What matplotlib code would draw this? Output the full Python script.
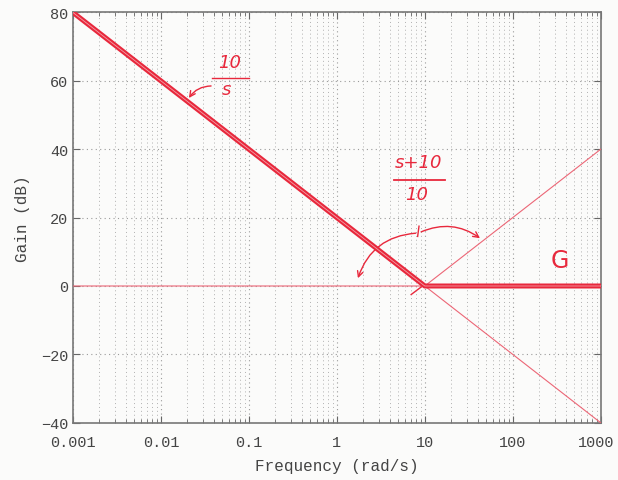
import numpy as np
import matplotlib.pyplot as plt
import matplotlib.transforms as mtransforms
from matplotlib.ticker import LogLocator, FixedLocator, NullFormatter

# asymptotic Bode gains
freq = [0.001, 10, 1000]
gain_int = [80, 0, -40]      # 10/s
gain_lead = [0, 0, 40]       # (s+10)/10
gain_G = [80, 0, 0]          # G = product

xticks = [0.001, 0.01, 0.1, 1, 10, 100, 1000]
xlabels = ['0.001', '0.01', '0.1', '1', '10', '100', '1000']
yticks = [-40, -20, 0, 20, 40, 60, 80]

mono = 'Liberation Mono'
red = '#e8283c'
thin = '#ec6676'

fig = plt.figure(figsize=(6.18, 4.81), dpi=100, facecolor='#fbfbfa')
ax = fig.add_axes([0.118, 0.119, 0.854, 0.853])
ax.set_facecolor('#fbfbfa')

ax.set_xscale('log')
ax.set_xlim(0.001, 1000)
ax.set_ylim(-40, 80)

# printed asymptotes (thin)
ax.plot(freq, gain_int, color=thin, lw=0.8, zorder=3)
ax.plot(freq, gain_lead, color=thin, lw=0.8, zorder=3)

# hand-drawn G (thick, double stroke)
ax.plot(freq, gain_G, color=red, lw=3.6, solid_capstyle='round', zorder=4)
ax.plot(freq, gain_G, color='#f4a0a8', lw=0.6, zorder=5)

ax.xaxis.set_major_locator(FixedLocator(xticks))
ax.set_xticklabels(xlabels)
ax.xaxis.set_minor_locator(LogLocator(base=10, subs=np.arange(2, 10)))
ax.xaxis.set_minor_formatter(NullFormatter())
ax.set_yticks(yticks)

ax.grid(True, which='major', color='#9a9a9a', ls=(0, (1, 3)), lw=0.8)
ax.grid(True, which='minor', axis='x', color='#b0b0b0', ls=(0, (1, 3)), lw=0.7)

ax.tick_params(which='both', direction='in', top=True, right=True,
               colors='#666666', labelcolor='#444444', labelsize=11)
ax.tick_params(which='major', length=5)
ax.tick_params(which='minor', length=3)
ax.tick_params(axis='x', which='major', pad=9)
for lab in ax.get_xticklabels() + ax.get_yticklabels():
    lab.set_fontfamily(mono)
# last x label sits flush against the right edge
last = ax.get_xticklabels()[-1]
last.set_transform(last.get_transform() + mtransforms.ScaledTranslation(-5 / 100, 0, fig.dpi_scale_trans))
for sp in ax.spines.values():
    sp.set_color('#777777')
    sp.set_linewidth(1.2)

ax.set_xlabel('Frequency (rad/s)', fontfamily=mono, fontsize=11.5, color='#444444', labelpad=6)
ax.set_ylabel('Gain (dB)', fontfamily=mono, fontsize=11.5, color='#444444', labelpad=8)

# handwritten notes
hand = dict(color=red, fontsize=13, fontfamily='DejaVu Sans', fontstyle='italic', ha='center', va='center')
ax.text(0.06, 65.5, '10', **hand)
ax.plot([0.038, 0.1], [60.8, 60.8], color=red, lw=1.0)
ax.text(0.055, 57.5, 's', **hand)
ax.annotate('', xy=(0.02, 54.3), xytext=(0.04, 58.5),
            arrowprops=dict(arrowstyle='->', color=red, lw=1.0, connectionstyle='arc3,rad=0.3'))

ax.text(8.5, 36.3, 's+10', **hand)
ax.plot([4.5, 17], [31.0, 31.0], color=red, lw=1.3)
ax.text(8.0, 27.0, '10', **hand)
ax.plot([8.6, 8.3], [17.5, 14.5], color=red, lw=1.0)
ax.annotate('', xy=(1.7, 1.5), xytext=(8.5, 15.5),
            arrowprops=dict(arrowstyle='->', color=red, lw=1.0, connectionstyle='arc3,rad=0.35'))
ax.annotate('', xy=(45, 13.5), xytext=(8.5, 15.5),
            arrowprops=dict(arrowstyle='->', color=red, lw=1.0, connectionstyle='arc3,rad=-0.3'))
ax.plot([7.0, 10.0], [-2.5, 0.5], color=red, lw=1.0)

ax.text(340, 7.5, 'G', color=red, fontsize=17, fontfamily='DejaVu Sans', ha='center', va='center')

fig.savefig('out.png', dpi=100, facecolor=fig.get_facecolor())
